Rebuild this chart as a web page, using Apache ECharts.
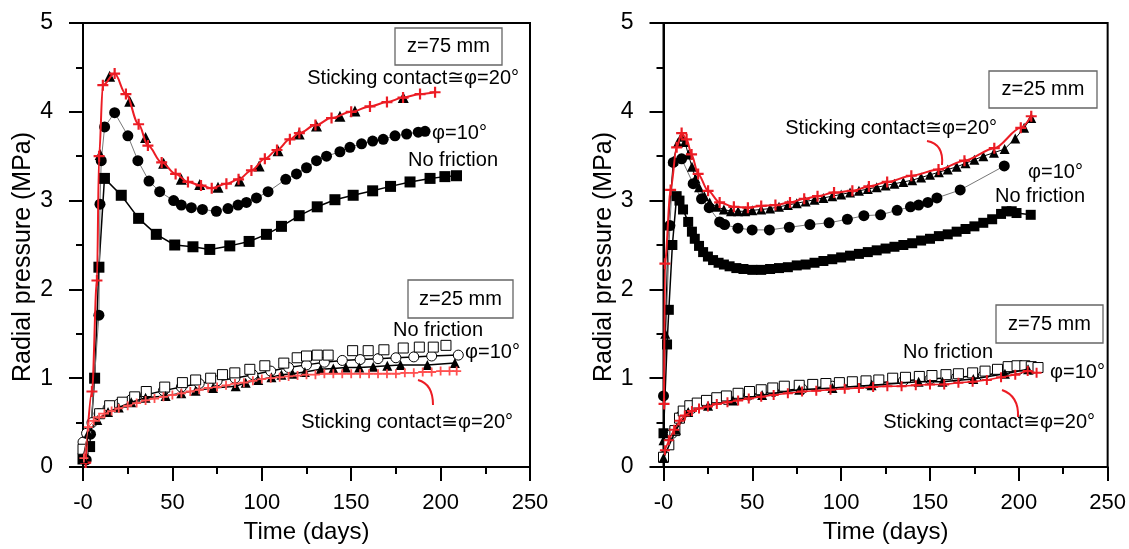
<!DOCTYPE html>
<html><head><meta charset="utf-8">
<script src="https://cdn.jsdelivr.net/npm/echarts@6/dist/echarts.min.js"></script>
<style>html,body{margin:0;padding:0;background:#fff}#c{width:1129px;height:549px}</style>
</head><body><div id="c"></div>
<script>
// ---------- Data (time in days, radial pressure in MPa) ----------
const xTicks = [0, 50, 100, 150, 200, 250];
const yTicks = [0, 1, 2, 3, 4, 5];

// Left chart, upper group (z=75 mm)
const L_up_noFriction = [[0,0.09],[3.7,0.23],[6.5,1.0],[8.9,2.25],[12,3.25],[21.4,3.06],[31.1,2.80],[41,2.62],[51.3,2.50],[61.5,2.48],[70.9,2.45],[82.1,2.49],[92.9,2.54],[102.6,2.62],[111,2.71],[120.9,2.83],[131,2.93],[140.9,3.01],[151.1,3.06],[162,3.11],[172,3.16],[182.9,3.21],[194.1,3.25],[202.4,3.27],[208.9,3.28]];
const L_up_phi10 = [[1.8,0.08],[4.2,0.37],[8.9,1.71],[9.5,2.96],[10.2,3.45],[12.1,3.83],[17.7,3.99],[25.1,3.73],[30.7,3.45],[36.9,3.22],[42.9,3.10],[50.7,3.00],[55,2.95],[60.6,2.92],[66.8,2.90],[74.6,2.88],[81.1,2.91],[86.7,2.95],[91.4,2.98],[97,3.03],[103.5,3.10],[113.4,3.24],[119.4,3.30],[125,3.37],[130.6,3.45],[136.2,3.50],[143.7,3.55],[149.3,3.60],[155.8,3.64],[162,3.67],[167.9,3.69],[174.5,3.73],[181,3.75],[187.5,3.77],[191.3,3.78]];
const L_up_phi20 = [[9.6,3.52],[14.9,4.40],[26.1,4.12],[35,3.71],[45.1,3.42],[55,3.24],[65.3,3.18],[75.5,3.15],[87.7,3.22],[98.5,3.39],[109.1,3.56],[120.9,3.75],[130.6,3.84],[143.7,3.95],[152.1,4.01],[179.1,4.16]];
const L_up_sticking = [[1.5,0.05],[5,0.85],[7.8,2.1],[9,3.50],[11.1,4.30],[17.7,4.43],[24,4.2],[31.1,3.86],[36.3,3.62],[44,3.43],[51.8,3.30],[58.7,3.21],[66,3.17],[72,3.14],[80.2,3.19],[87,3.24],[94.2,3.34],[101.7,3.47],[108.5,3.57],[115.7,3.69],[121,3.76],[130,3.85],[139,3.93],[150,4.0],[160.5,4.06],[170,4.11],[179,4.16],[188.5,4.20],[196.9,4.22]];

// Left chart, lower group (z=25 mm)
const L_lo_noFriction = [[0,0.20],[9.3,0.60],[14.9,0.69],[22,0.73],[28.9,0.79],[35.4,0.85],[45.7,0.90],[55.6,0.95],[63,0.98],[71.4,1.00],[78,1.04],[84.9,1.06],[93.3,1.10],[101.7,1.14],[112.3,1.17],[119.8,1.23],[125,1.25],[131,1.26],[137.1,1.26],[150.8,1.31],[159.5,1.31],[168.3,1.32],[179.1,1.34],[188.1,1.35],[195.9,1.35],[203,1.37]];
const L_lo_phi10 = [[0,0.28],[2,0.38],[5,0.5],[9,0.6],[14,0.66],[20,0.71],[27,0.76],[35,0.81],[45,0.86],[55,0.9],[65,0.94],[75,0.97],[85,1.0],[95,1.04],[105,1.08],[115,1.12],[125,1.15],[135,1.18],[145,1.2],[155,1.21],[165,1.22],[175,1.23],[185,1.24],[195,1.25],[209.9,1.26]];
const L_lo_phi20 = [[0,0.1],[3,0.38],[8,0.53],[14,0.62],[20,0.67],[27,0.73],[35,0.78],[46.2,0.80],[55,0.83],[63,0.86],[72.7,0.89],[85.4,0.91],[91,0.95],[98,0.98],[105.4,1.01],[111,1.04],[117.2,1.05],[124.1,1.07],[132.9,1.10],[140,1.11],[147,1.12],[154.5,1.12],[162.3,1.13],[170.2,1.14],[177.6,1.15],[192.6,1.15],[208,1.17]];
const L_lo_sticking = [[0.5,0.1],[3,0.45],[6,0.52],[9,0.56],[12,0.6],[16,0.63],[20,0.66],[25,0.69],[30,0.72],[35,0.75],[40,0.77],[45,0.79],[50,0.81],[55,0.83],[60,0.85],[65,0.87],[70,0.89],[75,0.9],[80,0.92],[85,0.94],[90,0.95],[95,0.97],[100,0.99],[105,1.0],[110,1.01],[115,1.02],[120,1.03],[125,1.04],[130,1.04],[135,1.05],[140,1.05],[145,1.05],[150,1.05],[155,1.05],[160,1.05],[165,1.05],[170,1.05],[175,1.05],[180,1.06],[185,1.06],[190,1.07],[195,1.07],[200,1.08],[205,1.08],[209,1.08]];

// Right chart, upper group (z=25 mm)
const R_up_noFriction = [[0,0.38],[2,1.38],[3,1.77],[5,2.5],[7.4,3.05],[9,3.0],[11,2.9],[13.9,2.76],[16,2.65],[17.6,2.57],[20,2.49],[22.3,2.42],[25,2.37],[27.9,2.33],[31,2.30],[34,2.28],[37.2,2.26],[41,2.24],[45,2.23],[50,2.22],[55,2.22],[60,2.23],[65,2.24],[70,2.25],[75,2.27],[80,2.28],[85,2.30],[90,2.32],[95,2.34],[100,2.36],[105,2.38],[110,2.40],[115,2.42],[120,2.44],[125,2.46],[130,2.48],[135,2.50],[140,2.52],[145,2.55],[150,2.57],[155,2.60],[160,2.62],[165,2.65],[170,2.68],[175,2.71],[180,2.75],[185,2.79],[190,2.85],[193,2.88],[196,2.88],[198.7,2.86],[206.7,2.84]];
const R_up_phi10 = [[0,0.80],[3.6,2.72],[5.5,3.43],[10.2,3.47],[16.7,3.19],[21.4,3.02],[25.7,2.92],[31.6,2.76],[34.4,2.73],[41.9,2.69],[49.9,2.67],[59.6,2.67],[70.8,2.70],[82.4,2.73],[93.2,2.75],[103.5,2.79],[112.8,2.83],[122.2,2.84],[131.5,2.89],[139,2.93],[143.6,2.95],[148.8,2.98],[153.9,3.03],[167,3.12],[191.8,3.39]];
const R_up_phi20 = [[0,0.3],[1,1.5],[2.7,2.72],[5.5,3.45],[8,3.65],[10,3.72],[12,3.66],[14,3.52],[16,3.38],[18,3.25],[20,3.15],[23,3.05],[26,2.98],[30,2.93],[34,2.90],[38,2.88],[42,2.88],[46,2.88],[50,2.89],[55,2.90],[60,2.91],[65,2.93],[70,2.95],[75,2.97],[80,2.99],[85,3.01],[90,3.03],[95,3.05],[100,3.07],[105,3.09],[110,3.11],[115,3.13],[120,3.15],[125,3.17],[130,3.19],[135,3.21],[140,3.23],[145,3.26],[150,3.29],[155,3.32],[160,3.35],[165,3.38],[170,3.42],[175,3.46],[180,3.50],[186,3.54],[192,3.58],[198,3.70],[203,3.82],[207,3.93]];
const R_up_sticking = [[0.3,0.71],[0.8,2.29],[4,3.12],[7.4,3.60],[10.2,3.76],[13,3.69],[15.8,3.52],[19.5,3.30],[25.1,3.11],[31.6,2.98],[39.6,2.93],[47.5,2.92],[55,2.94],[63,2.95],[71.2,2.98],[79.2,3.02],[86.7,3.05],[96,3.09],[106.3,3.11],[115.6,3.16],[125.9,3.21],[139.5,3.28],[154.8,3.35],[169.4,3.45],[186.2,3.59],[201.1,3.82],[207,3.95]];

// Right chart, lower group (z=75 mm)
const R_lo_noFriction = [[0,0.11],[3,0.25],[6.4,0.41],[9,0.55],[11.1,0.63],[14.8,0.69],[19,0.72],[24.2,0.75],[30,0.78],[35.4,0.80],[42,0.83],[48.4,0.85],[55,0.87],[61.5,0.89],[68,0.91],[76.4,0.92],[84,0.93],[91.4,0.94],[99,0.95],[106.3,0.96],[114,0.97],[121.2,0.98],[129,1.00],[136.2,1.01],[144,1.02],[151.1,1.03],[159,1.04],[166,1.05],[174,1.06],[181,1.08],[188,1.10],[194,1.13],[199,1.14],[203.4,1.14],[207,1.13],[210.8,1.12]];
const R_lo_phi10 = [[0,0.12],[5,0.38],[10,0.58],[16,0.66],[25,0.71],[35,0.76],[48,0.81],[62,0.85],[78,0.88],[95,0.91],[115,0.94],[135,0.97],[150,0.99],[165,1.01],[180,1.03],[192,1.07],[200,1.10],[207,1.10]];
const R_lo_phi20 = [[0,0.1],[7,0.42],[13.9,0.62],[25.1,0.69],[39.1,0.75],[55.5,0.81],[76.4,0.87],[95.1,0.89],[117.1,0.92],[143.6,0.96],[157,0.96],[174.4,0.99],[192.2,1.05],[205.2,1.10]];
const R_lo_sticking = [[0.8,0.19],[3,0.3],[6,0.42],[9,0.52],[12,0.58],[16,0.63],[20,0.66],[25,0.68],[30,0.71],[36,0.73],[42,0.75],[48,0.77],[55,0.79],[62,0.81],[70,0.83],[78,0.85],[86,0.86],[94,0.87],[102,0.88],[110,0.89],[118,0.90],[126,0.91],[134,0.91],[142,0.92],[150,0.93],[158,0.93],[166,0.95],[174,0.96],[182,0.98],[190,1.01],[198,1.04],[205,1.08],[210,1.06]];

// ---------- Styling ----------
const FONT = '"Liberation Sans", Arial, "DejaVu Sans", sans-serif';
const RED = '#ec1c24';
const PLUS = 'path://M4,0H6V4H10V6H6V10H4V6H0V4H4Z';

function xAx(gi) {
  return {
    type: 'value', gridIndex: gi, min: xTicks[0], max: xTicks[xTicks.length-1], interval: 50,
    name: 'Time (days)', nameLocation: 'middle', nameGap: 53,
    nameTextStyle: {fontSize: 24, color: '#000', fontFamily: FONT},
    axisLine: {show: true, onZero: false, lineStyle: {color: '#000', width: 2}},
    axisTick: {show: true, length: 14, lineStyle: {color: '#000', width: 2}},
    minorTick: {show: true, splitNumber: 2, length: 7, lineStyle: {color: '#000', width: 2}},
    splitLine: {show: false}, minorSplitLine: {show: false},
    axisLabel: {fontSize: 22, color: '#000', fontFamily: FONT, margin: 25,
      formatter: v => v === 0 ? '-0' : String(v)}
  };
}
function yAx(gi) {
  return {
    type: 'value', gridIndex: gi, min: yTicks[0], max: yTicks[yTicks.length-1], interval: 1,
    axisLine: {show: true, onZero: false, lineStyle: {color: '#000', width: 2}},
    axisTick: {show: true, length: 14, lineStyle: {color: '#000', width: 2}},
    minorTick: {show: true, splitNumber: 2, length: 7, lineStyle: {color: '#000', width: 2}},
    splitLine: {show: false}, minorSplitLine: {show: false},
    axisLabel: {fontSize: 23, color: '#000', fontFamily: FONT, margin: 30}
  };
}

function S(gi, data, o) {
  const s = {
    type: 'line', xAxisIndex: gi, yAxisIndex: gi, data: data, clip: false,
    symbol: o.symbol, symbolSize: o.size, showAllSymbol: true,
    itemStyle: {color: o.fill, borderColor: o.border || o.fill, borderWidth: o.bw || 0},
    lineStyle: {color: o.lc || '#000', width: o.lw === undefined ? 1.5 : o.lw, opacity: o.lw === 0 ? 0 : 1},
    smooth: o.smooth || false, z: o.z || 2, animation: false, silent: true
  };
  if (o.smooth) s.smoothMonotone = 'x';
  return s;
}

const series = [
  // left upper
  S(0, L_up_noFriction, {symbol: 'rect', size: 11, fill: '#000', lw: 1.5}),
  S(0, L_up_phi10, {symbol: 'circle', size: 11, fill: '#000', lc: '#777', lw: 1}),
  S(0, L_up_phi20, {symbol: 'triangle', size: 11, fill: '#000', lw: 0, z: 3}),
  S(0, L_up_sticking, {symbol: PLUS, size: 11, fill: RED, lc: RED, lw: 2, smooth: 0.35, z: 4}),
  // left lower
  S(0, L_lo_phi10, {symbol: 'circle', size: 10, fill: '#fff', border: '#000', bw: 1, lw: 1.5}),
  S(0, L_lo_noFriction, {symbol: 'rect', size: 10, fill: '#fff', border: '#000', bw: 1, lw: 0, z: 3}),
  S(0, L_lo_phi20, {symbol: 'triangle', size: 10, fill: '#000', lw: 1.5, z: 4}),
  S(0, L_lo_sticking, {symbol: PLUS, size: 9, fill: '#ff5050', lc: '#ff5050', lw: 1, z: 5}),
  // right upper
  S(1, R_up_noFriction, {symbol: 'rect', size: 10, fill: '#000', lw: 1.5}),
  S(1, R_up_phi10, {symbol: 'circle', size: 11, fill: '#000', lc: '#777', lw: 1}),
  S(1, R_up_phi20, {symbol: 'triangle', size: 10, fill: '#000', lw: 1, z: 3}),
  S(1, R_up_sticking, {symbol: PLUS, size: 11, fill: RED, lc: RED, lw: 2, smooth: 0.3, z: 4}),
  // right lower
  S(1, R_lo_phi10, {symbol: 'circle', size: 10, fill: '#fff', border: '#000', bw: 1, lw: 1.5}),
  S(1, R_lo_noFriction, {symbol: 'rect', size: 10, fill: '#fff', border: '#000', bw: 1, lw: 0, z: 3}),
  S(1, R_lo_phi20, {symbol: 'triangle', size: 10, fill: '#000', lw: 1.5, z: 4}),
  S(1, R_lo_sticking, {symbol: PLUS, size: 10, fill: RED, lc: RED, lw: 1.5, z: 5})
];

function T(text, x, y, align, size, rot) {
  return {type: 'text', z: 100, silent: true, x: x, y: y, rotation: rot || 0,
    style: {text: text, x: 0, y: 0, fill: '#000', font: (size || 20) + 'px ' + FONT,
      textAlign: align || 'left', align: align || 'left', textVerticalAlign: 'middle', verticalAlign: 'middle'}};
}
function Box(text, x, y, w, h) {
  return [
    {type: 'rect', z: 99, silent: true, shape: {x: x, y: y, width: w, height: h},
     style: {fill: '#fff', stroke: '#666', lineWidth: 1.3}},
    T(text, x + w / 2, y + h / 2, 'center')
  ];
}
function Lead(x1, y1, cx, cy, x2, y2) {
  return {type: 'bezierCurve', z: 100, silent: true,
    shape: {x1: x1, y1: y1, cpx1: cx, cpy1: cy, x2: x2, y2: y2},
    style: {stroke: RED, lineWidth: 2, fill: null}};
}
const STICK = 'Sticking contact\u2245\u03c6=20\u00b0';
const PHI10 = '\u03c6=10\u00b0';
const YNAME = 'Radial pressure (MPa)';

const graphics = [].concat(
  [T(YNAME, 23, 257, 'center', 25, Math.PI / 2), T(YNAME, 604, 257, 'center', 25, Math.PI / 2)],
  Box('z=75 mm', 395, 28, 107, 37),
  [T(STICK, 519, 78, 'right'), T(PHI10, 432, 133), T('No friction', 408, 160)],
  Box('z=25 mm', 408, 280, 105, 38),
  [T('No friction', 393, 330), T(PHI10, 465, 352), T(STICK, 513, 422, 'right'),
   Lead(418, 380, 433, 384, 433, 405)],
  Box('z=25 mm', 989, 71, 108, 37),
  [T(STICK, 997, 128, 'right'), T(PHI10, 1028, 172), T('No friction', 995, 196),
   Lead(927, 141, 944, 144, 942, 165)],
  Box('z=75 mm', 996, 305, 107, 38),
  [T('No friction', 903, 352), T(PHI10, 1050, 372), T(STICK, 1095, 422, 'right'),
   Lead(1002, 390, 1019, 396, 1018, 417)]
);

const chart = echarts.init(document.getElementById('c'), null, {renderer: 'canvas'});
chart.setOption({
  backgroundColor: '#fff',
  animation: false,
  grid: [
    {left: 83, top: 23, width: 447, height: 447, show: true, borderColor: '#000', borderWidth: 2, backgroundColor: 'transparent'},
    {left: 663.5, top: 23, width: 447, height: 447, show: true, borderColor: '#000', borderWidth: 2, backgroundColor: 'transparent'}
  ],
  xAxis: [xAx(0), xAx(1)],
  yAxis: [yAx(0), yAx(1)],
  series: series,
  graphic: {elements: graphics}
});
</script>
</body></html>
